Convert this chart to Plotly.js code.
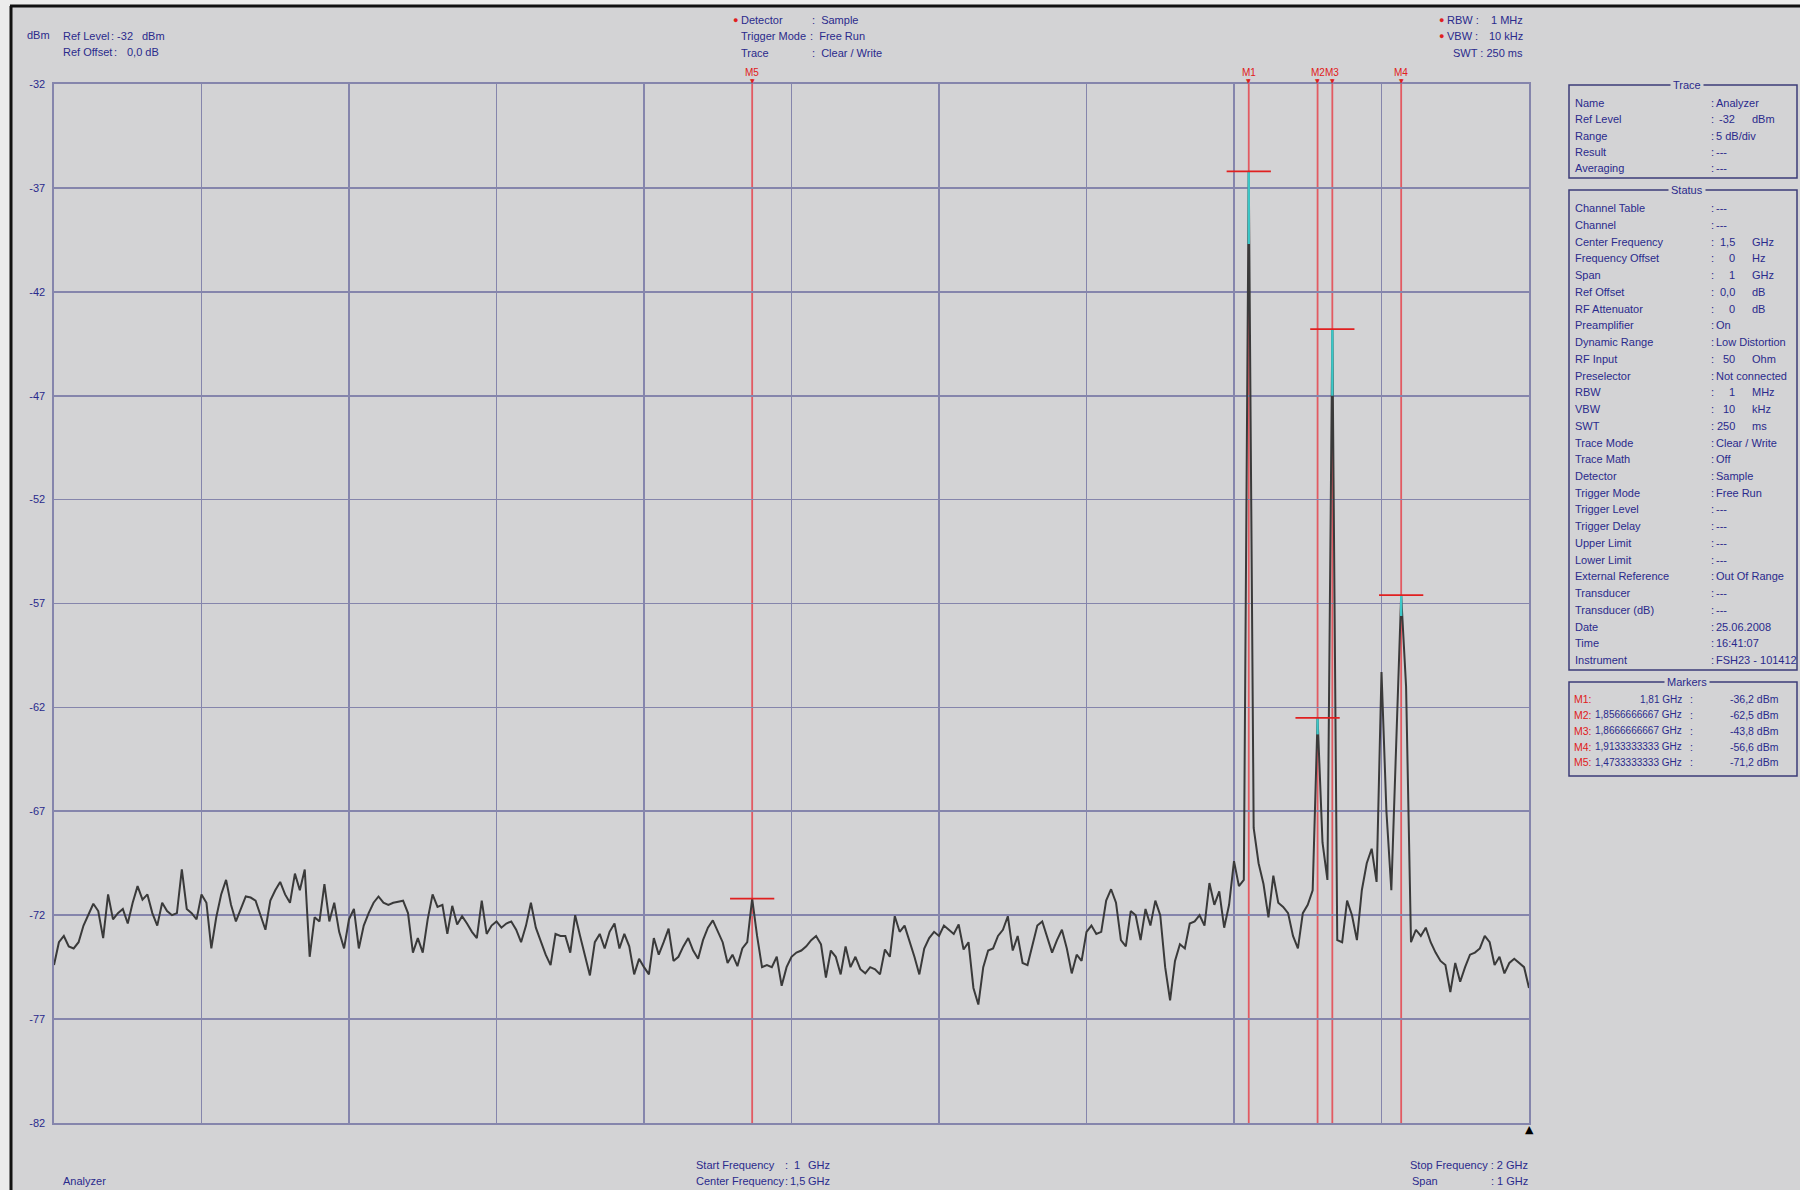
<!DOCTYPE html>
<html>
<head>
<meta charset="utf-8">
<script src="https://cdn.plot.ly/plotly-3.0.1.min.js"></script>
<style>
html,body{margin:0;padding:0;background:#d3d3d5;}
#chart{width:1800px;height:1190px;}
</style>
</head>
<body>
<div id="chart"></div>
<script>
// ---------------- DATA ----------------
const startGHz = 1.0;
const stopGHz = 2.0;
const sweepPoints = 301;

// trace level (dBm) for each sweep point
const levels = [
 -74.4,-73.3,-73.0,-73.5,-73.6,-73.3,-72.5,-72.0,-71.45,-71.8,
 -73.1,-71.0,-72.2,-71.9,-71.7,-72.4,-71.4,-70.6,-71.25,-71.0,
 -71.9,-72.5,-71.4,-71.8,-72.0,-71.9,-69.8,-71.7,-71.9,-72.2,
 -71.0,-71.4,-73.6,-72.1,-71.0,-70.3,-71.5,-72.3,-71.7,-71.1,
 -71.15,-71.3,-72.0,-72.7,-71.3,-70.8,-70.4,-71.0,-71.4,-70.0,
 -70.8,-69.8,-74.0,-72.1,-72.3,-70.5,-72.3,-71.4,-72.8,-73.6,
 -72.2,-71.7,-73.6,-72.5,-71.9,-71.4,-71.1,-71.4,-71.5,-71.4,
 -71.35,-71.3,-71.9,-73.8,-73.1,-73.8,-72.2,-71.0,-71.6,-71.5,
 -72.9,-71.55,-72.45,-72.05,-72.4,-72.8,-73.1,-71.3,-72.9,-72.5,
 -72.3,-72.6,-72.4,-72.3,-72.7,-73.3,-72.5,-71.4,-72.6,-73.25,
 -73.9,-74.4,-72.9,-73.0,-73.0,-73.8,-72.0,-73.0,-74.0,-74.9,
 -73.3,-72.9,-73.6,-72.8,-72.4,-73.6,-72.9,-73.5,-74.85,-74.1,
 -74.5,-74.85,-73.1,-73.9,-73.3,-72.65,-74.2,-74.0,-73.5,-73.1,
 -73.7,-74.1,-73.2,-72.6,-72.25,-72.8,-73.3,-74.3,-73.9,-74.45,
 -73.6,-73.3,-71.2,-73.0,-74.5,-74.4,-74.5,-74.0,-75.4,-74.5,
 -74.0,-73.8,-73.7,-73.5,-73.2,-73.0,-73.4,-75.0,-73.7,-74.0,
 -74.85,-73.5,-74.5,-74.0,-74.6,-74.8,-74.5,-74.6,-74.85,-73.65,
 -74.0,-72.05,-72.8,-72.5,-73.2,-74.0,-74.85,-73.6,-73.1,-72.8,
 -73.0,-72.5,-72.7,-72.9,-72.45,-73.65,-73.3,-75.5,-76.3,-74.5,
 -73.7,-73.6,-73.0,-72.7,-72.05,-73.7,-73.0,-74.3,-74.4,-73.4,
 -72.5,-72.3,-73.0,-73.8,-73.2,-72.7,-73.6,-74.8,-73.9,-74.2,
 -72.8,-72.5,-72.9,-72.8,-71.3,-70.75,-71.4,-73.2,-73.5,-71.8,
 -72.0,-73.2,-71.7,-72.5,-71.3,-72.0,-74.5,-76.1,-74.2,-73.4,
 -73.6,-72.4,-72.3,-72.0,-72.5,-70.45,-71.5,-70.85,-72.6,-71.5,
 -69.4,-70.6,-70.3,-36.2,-67.8,-69.5,-70.5,-72.1,-70.1,-71.4,
 -71.6,-71.9,-73.0,-73.6,-71.9,-71.5,-70.8,-62.5,-68.5,-70.3,
 -43.8,-73.2,-73.3,-71.3,-72.0,-73.2,-70.8,-69.5,-68.8,-70.4,
 -60.3,-67.0,-70.8,-64.0,-56.6,-61.0,-73.3,-72.7,-73.0,-72.6,
 -73.3,-73.8,-74.2,-74.4,-75.7,-74.3,-75.2,-74.5,-73.9,-73.8,
 -73.6,-73.0,-73.3,-74.4,-74.0,-74.8,-74.3,-74.1,-74.3,-74.5,
 -75.5
];

const markerNames = ['M1','M2','M3','M4','M5'];
const markerFreqs = [1.81, 1.8566666667, 1.8666666667, 1.9133333333, 1.4733333333];
const markerLevels = [-36.2, -62.5, -43.8, -56.6, -71.2];
const markerFreqText = ['1,81 GHz','1,8566666667 GHz','1,8666666667 GHz','1,9133333333 GHz','1,4733333333 GHz'];
const markerLevelText = ['-36,2 dBm','-62,5 dBm','-43,8 dBm','-56,6 dBm','-71,2 dBm'];
const cyanTipDepth = [3.5, 0.8, 3.2, 1.0, 0];

const yTicks = [-32,-37,-42,-47,-52,-57,-62,-67,-72,-77,-82];
const yTickText = ['-32','-37','-42','-47','-52','-57','-62','-67','-72','-77','-82'];
const xGridTicks = [1.0,1.1,1.2,1.3,1.4,1.5,1.6,1.7,1.8,1.9,2.0];

const traceLabels = ['Name','Ref Level','Range','Result','Averaging'];
const traceValues = ['Analyzer','-32|dBm','5 dB/div','---','---'];

const statusLabels = ['Channel Table','Channel','Center Frequency','Frequency Offset','Span','Ref Offset',
 'RF Attenuator','Preamplifier','Dynamic Range','RF Input','Preselector','RBW','VBW','SWT','Trace Mode',
 'Trace Math','Detector','Trigger Mode','Trigger Level','Trigger Delay','Upper Limit','Lower Limit',
 'External Reference','Transducer','Transducer (dB)','Date','Time','Instrument'];
const statusValues = ['---','---','1,5|GHz','0|Hz','1|GHz','0,0|dB','0|dB','On','Low Distortion','50|Ohm',
 'Not connected','1|MHz','10|kHz','250|ms','Clear / Write','Off','Sample','Free Run','---','---','---','---',
 'Out Of Range','---','---','25.06.2008','16:41:07','FSH23 - 101412'];

// ---------------- LAYOUT HELPERS ----------------
const W = 1800, H = 1190;
const L = 54, R = 271, T = 84, B = 67;
const PW = W - L - R, PH = H - T - B;
const px = x => (x - L) / PW;
const py = y => 1 - (y - T) / PH;

const FONT = 'Liberation Sans, Arial, sans-serif';
const NAVY = '#2a2a8c';
const RED = '#e02020';
const GRID = '#8585ac';
const BG = '#d3d3d5';

const annotations = [];
function txt(text, x, y, xa, color, size) {
  annotations.push({text: text, xref: 'paper', yref: 'paper', x: px(x), y: py(y),
    xanchor: xa || 'left', yanchor: 'middle', showarrow: false,
    font: {family: FONT, size: size || 11, color: color || NAVY}});
}

// frequencies of the sweep points
const freqs = levels.map((_, i) => startGHz + i * (stopGHz - startGHz) / (sweepPoints - 1));

// ---------------- TRACES ----------------
const data = [{
  type: 'scatter', mode: 'lines', x: freqs, y: levels,
  line: {color: '#3a3a3a', width: 2}, hoverinfo: 'skip', showlegend: false
}];
markerFreqs.forEach((f, k) => {
  if (cyanTipDepth[k] > 0) {
    data.push({type: 'scatter', mode: 'lines', x: [f, f],
      y: [markerLevels[k], markerLevels[k] - cyanTipDepth[k]],
      line: {color: '#3cc8c8', width: 2.4}, hoverinfo: 'skip', showlegend: false});
  }
});

// ---------------- SHAPES ----------------
const shapes = [];
shapes.push({type: 'rect', xref: 'paper', yref: 'paper', x0: px(0), x1: px(10), y0: py(0), y1: py(H), fillcolor: '#ececec', line: {width: 0}, layer: 'below'});
shapes.push({type: 'rect', xref: 'paper', yref: 'paper', x0: px(0), x1: px(W), y0: py(0), y1: py(5), fillcolor: '#ececec', line: {width: 0}, layer: 'below'});
shapes.push({type: 'line', xref: 'paper', yref: 'paper', x0: px(10), x1: px(W), y0: py(6), y1: py(6), line: {color: '#111', width: 3}});
shapes.push({type: 'line', xref: 'paper', yref: 'paper', x0: px(11), x1: px(11), y0: py(6), y1: py(H), line: {color: '#111', width: 3}});

// marker lines
markerFreqs.forEach((f, k) => {
  shapes.push({type: 'line', xref: 'x', yref: 'paper', x0: f, x1: f, y0: 0, y1: py(79),
    line: {color: '#e25a62', width: 1.8}, layer: 'below'});
  shapes.push({type: 'line', xref: 'x', yref: 'y', x0: f - 0.015, x1: f + 0.015,
    y0: markerLevels[k], y1: markerLevels[k], line: {color: RED, width: 1.8}});
  annotations.push({text: markerNames[k], xref: 'x', yref: 'paper', x: f, y: py(72),
    xanchor: 'center', yanchor: 'middle', showarrow: false,
    font: {family: FONT, size: 10, color: RED}});
  annotations.push({text: '▼', xref: 'x', yref: 'paper', x: f, y: py(80),
    xanchor: 'center', yanchor: 'middle', showarrow: false,
    font: {family: 'DejaVu Sans', size: 6, color: RED}});
});

// side panel boxes
function box(y0, y1, title) {
  shapes.push({type: 'rect', xref: 'paper', yref: 'paper', x0: px(1569), x1: px(1797),
    y0: py(y0), y1: py(y1), line: {color: '#3c3c78', width: 1.5}});
  annotations.push({text: title, xref: 'paper', yref: 'paper', x: px(1687), y: py(y0),
    xanchor: 'center', yanchor: 'middle', showarrow: false, bgcolor: BG, borderpad: 2,
    font: {family: FONT, size: 11, color: NAVY}});
}
box(85, 178, 'Trace');
box(190, 670, 'Status');
box(682, 776, 'Markers');

function valueCell(v, y) {
  txt(':', 1709, y, 'left');
  if (v.indexOf('|') >= 0) {
    const p = v.split('|');
    txt(p[0], 1737, y, 'right');
    txt(p[1], 1750, y, 'left');
  } else {
    txt(v, 1714, y, 'left');
  }
}
traceLabels.forEach((lab, k) => {
  const y = 103 + k * 16.35;
  txt(lab, 1573, y);
  valueCell(traceValues[k], y);
});
statusLabels.forEach((lab, k) => {
  const y = 208.3 + k * 16.73;
  txt(lab, 1573, y);
  valueCell(statusValues[k], y);
});
markerNames.forEach((m, k) => {
  const y = 699 + k * 15.85;
  txt(m + ':', 1572, y, 'left', RED, 10.5);
  txt(markerFreqText[k], 1684, y, 'right', NAVY, 10);
  txt(':', 1688, y, 'left', NAVY, 10.5);
  txt(markerLevelText[k], 1781, y, 'right', NAVY, 10.5);
});

// header texts
txt('dBm', 25, 35);
txt('Ref Level', 61, 36);
txt(': -32', 109, 36);
txt('dBm', 140, 36);
txt('Ref Offset', 61, 52);
txt(':', 112, 52);
txt('0,0 dB', 125, 52);

txt('●', 731, 20, 'left', RED, 9);
txt('Detector', 739, 20);
txt('Trigger Mode', 739, 36);
txt('Trace', 739, 53);
txt(':  Sample', 810, 20);
txt(':  Free Run', 808, 36);
txt(':  Clear / Write', 810, 53);

txt('●', 1437, 20, 'left', RED, 9);
txt('●', 1437, 36, 'left', RED, 9);
txt('RBW :', 1445, 20);
txt('VBW :', 1445, 36);
txt('1 MHz', 1525, 20, 'right');
txt('10 kHz', 1525, 36, 'right');
txt('SWT : 250 ms', 1525, 53, 'right');

// footer texts
txt('Analyzer', 61, 1181);
txt('Start Frequency', 694, 1165);
txt(':', 783, 1165);
txt('1', 792, 1165);
txt('GHz', 806, 1165);
txt('Center Frequency', 694, 1181);
txt(':', 783, 1181);
txt('1,5', 788, 1181);
txt('GHz', 806, 1181);
txt('Stop Frequency : 2 GHz', 1530, 1165, 'right');
txt('Span', 1410, 1181);
txt(': 1 GHz', 1530, 1181, 'right');

// black reference triangle at the bottom right corner
annotations.push({text: '▲', xref: 'paper', yref: 'paper', x: 1, y: py(1129),
  xanchor: 'center', yanchor: 'middle', showarrow: false,
  font: {family: 'DejaVu Sans', size: 11, color: '#000'}});

const layout = {
  width: W, height: H,
  margin: {l: L, r: R, t: T, b: B, pad: 0},
  paper_bgcolor: BG, plot_bgcolor: BG,
  showlegend: false,
  xaxis: {range: [startGHz, stopGHz], tickmode: 'array', tickvals: xGridTicks,
    showticklabels: false, ticks: '', showgrid: true, gridcolor: GRID, gridwidth: 1.6,
    zeroline: false, showline: true, mirror: true, linecolor: GRID, linewidth: 1.6, fixedrange: true},
  yaxis: {range: [-82, -32], tickmode: 'array', tickvals: yTicks, ticktext: yTickText,
    ticks: '', ticklabelstandoff: 5, tickfont: {family: FONT, size: 11, color: NAVY},
    showgrid: true, gridcolor: GRID, gridwidth: 1.6,
    zeroline: false, showline: true, mirror: true, linecolor: GRID, linewidth: 1.6, fixedrange: true},
  shapes: shapes,
  annotations: annotations
};

Plotly.newPlot('chart', data, layout, {displayModeBar: false, staticPlot: true});
</script>
</body>
</html>
